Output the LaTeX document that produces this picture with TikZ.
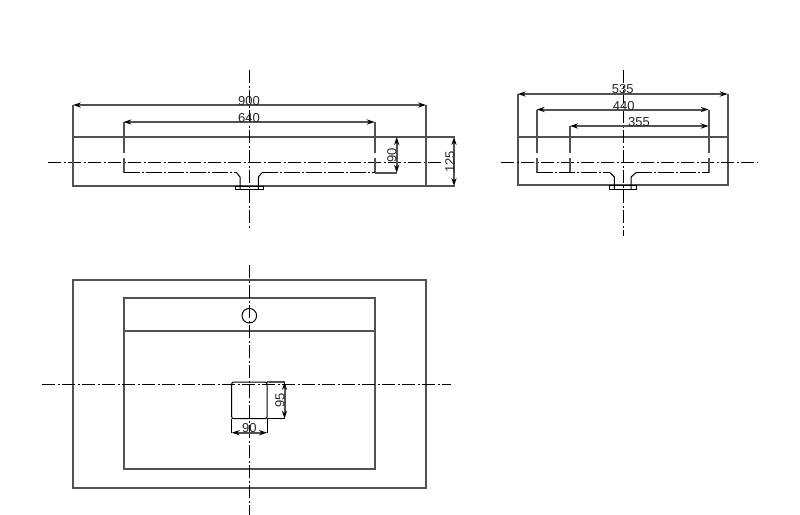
\documentclass[tikz,border=0pt]{standalone}
\usepackage{fontspec}
\setmainfont{Liberation Sans}
\usetikzlibrary{arrows.meta}
\tikzset{
    outline/.style={line width=1pt,black!68},
    fineline/.style={line width=0.5pt,black},
    axisline/.style={line width=0.5pt,black,dash pattern=on 6.5pt off 1.25pt on 1pt off 1.25pt},
    hiddenline/.style={line width=0.5pt,black,dash pattern=on 8pt off 1pt on 1pt off 1pt},
    dimline/.style={line width=1pt,black!68,{Stealth[length=4pt,width=2.6pt,black]}-{Stealth[length=4pt,width=2.6pt,black]}},
    dimlabel/.style={inner sep=0pt,text=black!85,font=\fontsize{6.5}{7}\selectfont}
}
\begin{document}
\begin{tikzpicture}[x=0.5pt,y=-0.5pt]
    \useasboundingbox (0,0) rectangle (800,515);
    %% Front view
    \draw[outline] (73,137) rectangle (426,186);
    \draw[axisline] (48,162) -- (443,162);
    \draw[axisline] (249.5,70) -- (249.5,230);
    \draw[outline] (73,186) -- (73,105);
    \draw[outline] (426,186) -- (426,105);
    \draw[outline] (123.5,122) -- (123.5,153) (123.5,158) -- (123.5,172.7);
    \draw[outline] (374.7,122) -- (374.7,153) (374.7,158) -- (374.7,172.7);
    \draw[hiddenline] (123.5,172.7) -- (236.7,172.7);
    \draw[hiddenline] (262,172.7) -- (374.7,172.7);
    \draw[outline] (374.7,172.7) -- (397,172.7);
    \draw[outline] (426,137) -- (455,137);
    \draw[outline] (426,186) -- (455,186);
    %% Front view drain
    \draw[fineline] (236.7,172.7) -- (240,177) -- (240,189);
    \draw[fineline] (262,172.7) -- (258.3,177) -- (258.3,189);
    \draw[fineline] (235.3,186) rectangle (263.7,189.3);
    %% Front view dimensions
    \draw[dimline] (73,105) -- (426,105);
    \draw[dimline] (123.5,122) -- (374.7,122);
    \draw[dimline] (396.7,137) -- (396.7,172.7);
    \draw[dimline] (454,137) -- (454,186);
    \node[dimlabel] (width900) at (249,101) {900};
    \node[dimlabel] (width640) at (249,117.7) {640};
    \node[dimlabel,rotate=90] (depth90) at (392,155.7) {90};
    \node[dimlabel,rotate=90] (height125) at (450,161.7) {125};
    %% Side view
    \draw[outline] (517.7,137) rectangle (727.7,185.3);
    \draw[axisline] (501,162) -- (757,162);
    \draw[axisline] (623,70) -- (623,236);
    \draw[outline] (517.7,94) -- (517.7,137);
    \draw[outline] (727.7,94) -- (727.7,137);
    \draw[outline] (536.7,109.5) -- (536.7,153) (536.7,158) -- (536.7,172.7);
    \draw[outline] (570,126) -- (570,153) (570,158) -- (570,172.7);
    \draw[outline] (708.7,109.5) -- (708.7,153) (708.7,158) -- (708.7,172.7);
    \draw[hiddenline] (536.7,172.7) -- (610,172.7);
    \draw[hiddenline] (636,172.7) -- (708.7,172.7);
    %% Side view drain
    \draw[fineline] (610,172.7) -- (614.3,177) -- (614.3,189);
    \draw[fineline] (636,172.7) -- (631,177) -- (631,189);
    \draw[fineline] (609,185.3) rectangle (636.7,189);
    %% Side view dimensions
    \draw[dimline] (517.7,94) -- (727.7,94);
    \draw[dimline] (536.7,109.5) -- (708.7,109.5);
    \draw[dimline] (570,126) -- (708.7,126);
    \node[dimlabel] (width535) at (622.7,89.3) {535};
    \node[dimlabel] (width440) at (623.7,105.7) {440};
    \node[dimlabel] (width355) at (639,121.7) {355};
    %% Plan view
    \draw[outline] (72.7,279.7) rectangle (426,487.7);
    \draw[outline] (123.7,298.3) rectangle (375,468.7);
    \draw[outline] (123.7,331) -- (375,331);
    \draw[fineline] (249.3,315.7) circle (7.3);
    \draw[axisline] (42,384) -- (450.7,384);
    \draw[axisline] (249.3,265) -- (249.3,515);
    %% Plan view drain
    \draw[fineline,rounded corners=1pt] (231.7,382) rectangle (267,418.7);
    \draw[outline] (267,382) -- (285,382);
    \draw[fineline] (267,418.7) -- (285,418.7);
    \draw[fineline] (231.7,418.7) -- (231.7,433);
    \draw[fineline] (267,418.7) -- (267,433);
    %% Plan view dimensions
    \draw[dimline] (284.5,382) -- (284.5,418.7);
    \draw[dimline] (231.7,432.7) -- (267,432.7);
    \node[dimlabel,rotate=90] (drain95) at (280,400) {95};
    \node[dimlabel] (drain90) at (249.3,428) {90};
\end{tikzpicture}
\end{document}
